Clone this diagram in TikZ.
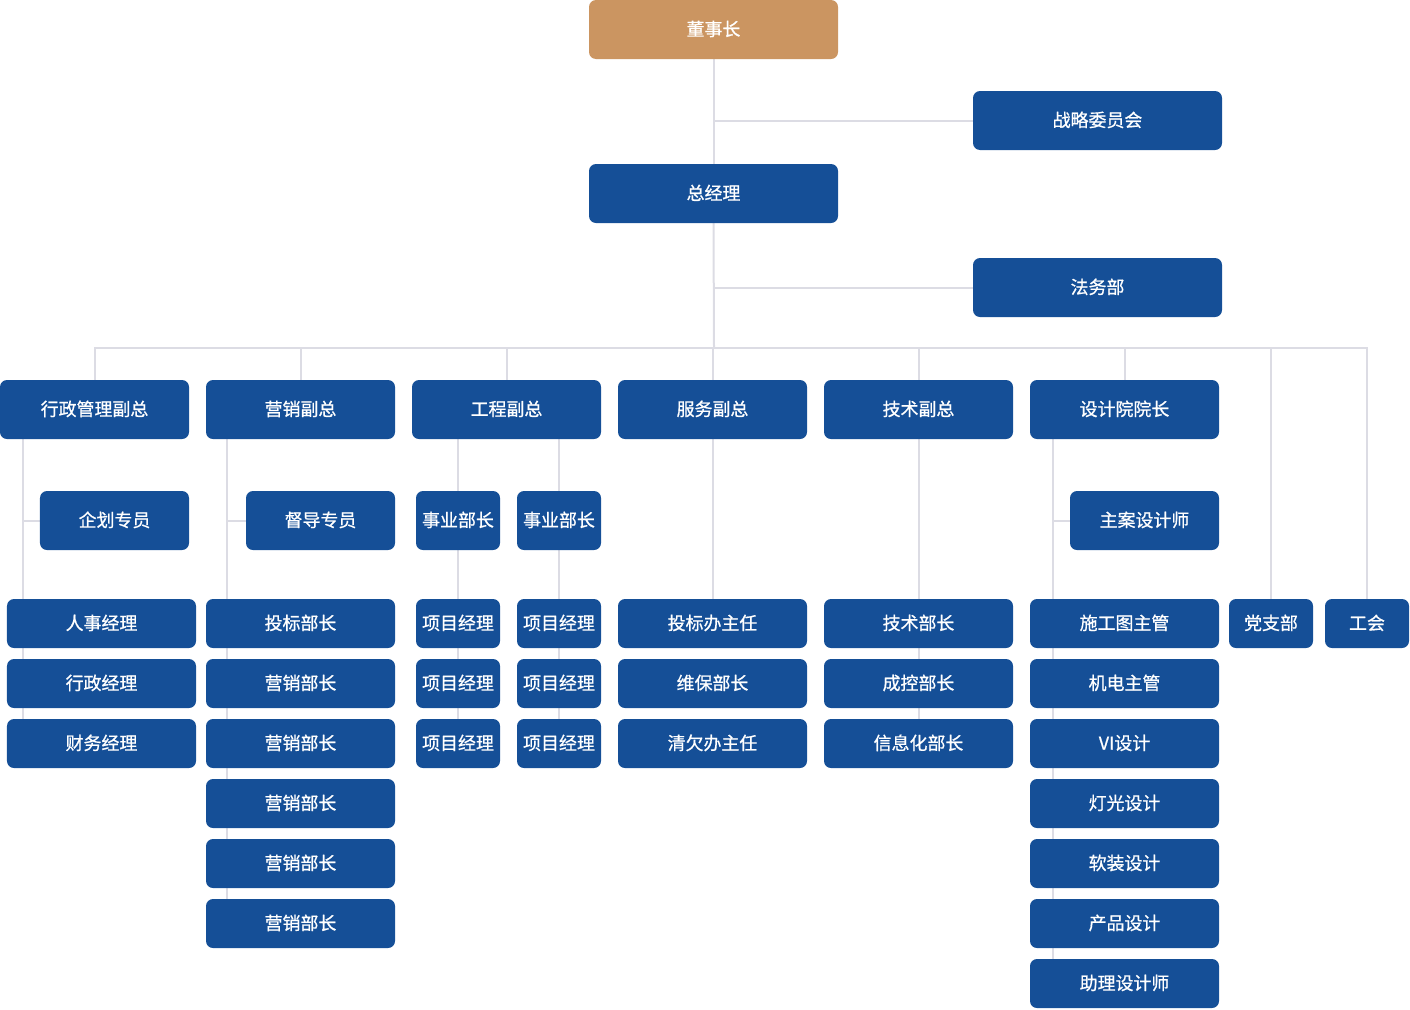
\documentclass[tikz,border=0pt]{standalone}
\usepackage{fontspec}
\setmainfont{Noto Sans CJK SC}[FakeBold=0.8]
\usetikzlibrary{positioning,backgrounds}

\definecolor{boxblue}{HTML}{154F97}
\definecolor{boxgold}{HTML}{CB9561}
\definecolor{linegray}{HTML}{DCDCE4}

\tikzset{
  box/.style={fill=boxblue, text=white, rounded corners=7bp, inner sep=0pt,
    minimum height=59bp, text height=13.5pt, text depth=1pt,
    font=\fontsize{18}{20}\selectfont},
  wide/.style={box, minimum width=249bp},
  mid/.style={box, minimum width=189bp},
  slim/.style={box, minimum width=149bp},
  narrow/.style={box, minimum width=84bp},
  low/.style={minimum height=49bp},
  link/.style={draw=linegray, line width=2bp},
}

\begin{document}
\begin{tikzpicture}[x=1bp, y=-1bp]
  \useasboundingbox (0,0) rectangle (1410,1009);

  % top
  \node (dsz) [wide, fill=boxgold] at (713.5,29.5) {董事长};
  \node (zlwy) [wide] at (1097.5,120.5) {战略委员会};
  \node (zjl) [wide] at (713.5,193.5) {总经理};
  \node (fwb) [wide] at (1097.5,287.5) {法务部};
  \coordinate (bus) at (714,348);

  % vice presidents
  \node (xz) [mid] at (94.5,409.5) {行政管理副总};
  \node (yx) [mid] at (300.5,409.5) {营销副总};
  \node (gc) [mid] at (506.5,409.5) {工程副总};
  \node (fw) [mid] at (712.5,409.5) {服务副总};
  \node (js) [mid] at (918.5,409.5) {技术副总};
  \node (sj) [mid] at (1124.5,409.5) {设计院院长};
  \node (dzb) [narrow, low] at (1271,623.5) {党支部};
  \node (gh) [narrow, low] at (1367,623.5) {工会};

  % assistants
  \node (qh) [slim] at (114.5,520.5) {企划专员};
  \node (dd) [slim] at (320.5,520.5) {督导专员};
  \node (sy1) [narrow] at (458,520.5) {事业部长};
  \node (sy2) [narrow] at (559,520.5) {事业部长};
  \node (za) [slim] at (1144.5,520.5) {主案设计师};

  % staff columns, rows 60 apart
  \foreach \t [count=\i] in {人事经理,行政经理,财务经理}
    \node (xz\i) [mid, low] at (101.5,563.5+60*\i) {\t};
  \foreach \t [count=\i] in {投标部长,营销部长,营销部长,营销部长,营销部长,营销部长}
    \node (yx\i) [mid, low] at (300.5,563.5+60*\i) {\t};
  \foreach \i in {1,2,3} {
    \node (xma\i) [narrow, low] at (458,563.5+60*\i) {项目经理};
    \node (xmb\i) [narrow, low] at (559,563.5+60*\i) {项目经理};
  }
  \foreach \t [count=\i] in {投标办主任,维保部长,清欠办主任}
    \node (fw\i) [mid, low] at (712.5,563.5+60*\i) {\t};
  \foreach \t [count=\i] in {技术部长,成控部长,信息化部长}
    \node (js\i) [mid, low] at (918.5,563.5+60*\i) {\t};
  \foreach \t [count=\i] in {施工图主管,机电主管,VI设计,灯光设计,软装设计,产品设计,助理设计师}
    \node (sj\i) [mid, low] at (1124.5,563.5+60*\i) {\t};

  \begin{pgfonlayer}{background}
    \draw[link] (dsz.south) -- (zjl.north);
    \draw[link] (zlwy.west) -- (zlwy.west -| dsz.south);
    \draw[link] (zjl.south) -- (bus);
    \draw[link] (fwb.west) -- (fwb.west -| zjl.south);
    \draw[link] (xz.north) |- (gh.north |- bus) -- (gh.north);
    \foreach \n in {yx,gc,fw,js,sj,dzb}
      \draw[link] (\n.north) -- (\n.north |- bus);

    \draw[link] ([xshift=23bp]xz.south west) -- ([xshift=23bp]xz.south west |- xz3.north);
    \draw[link] (qh.west) -- ([xshift=23bp]xz.south west |- qh.west);
    \draw[link] ([xshift=21bp]yx.south west) -- ([xshift=21bp]yx.south west |- yx6.north);
    \draw[link] (dd.west) -- ([xshift=21bp]yx.south west |- dd.west);
    \draw[link] (sy1.north |- gc.south) -- (sy1.north);
    \draw[link] (sy2.north |- gc.south) -- (sy2.north);
    \draw[link] (sy1.south) -- (xma3.north);
    \draw[link] (sy2.south) -- (xmb3.north);
    \draw[link] (fw.south) -- (fw1.north);
    \draw[link] (js.south) -- (js3.north);
    \draw[link] ([xshift=23bp]sj.south west) -- ([xshift=23bp]sj.south west |- sj7.north);
    \draw[link] (za.west) -- ([xshift=23bp]sj.south west |- za.west);
  \end{pgfonlayer}
\end{tikzpicture}
\end{document}
